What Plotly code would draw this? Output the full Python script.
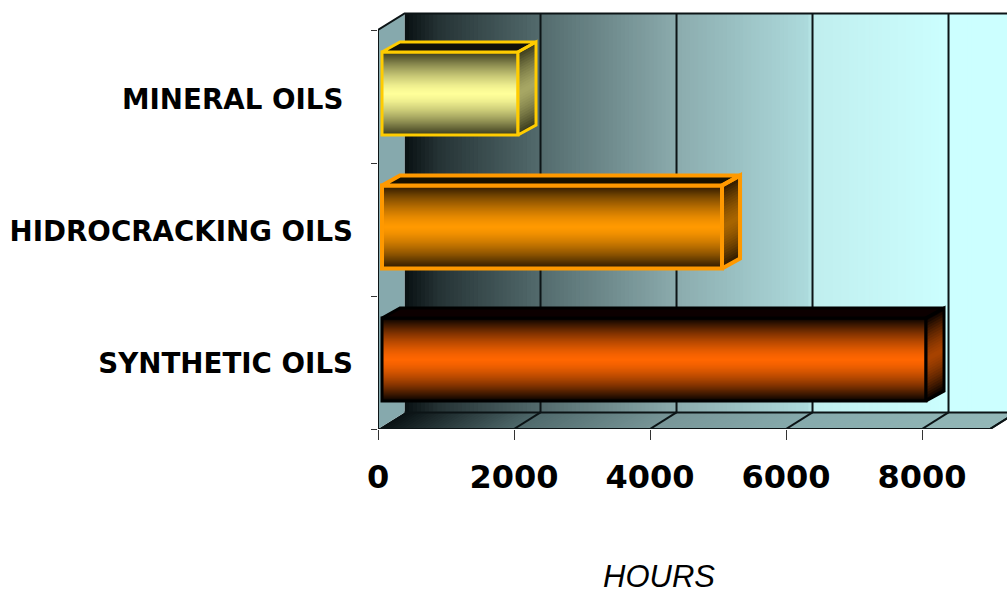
import plotly.graph_objects as go

categories = ["SYNTHETIC OILS", "HIDROCRACKING OILS", "MINERAL OILS\u00a0"]
label_positions = [0.496, 1.489, 2.481]
hours = [8000, 5000, 2000]
bar_centers = [0.5226, 1.519, 2.5226]
center_rgb = [(255, 102, 0), (255, 153, 0), (255, 255, 153)]
edge_rgb = [(8, 2, 0), (45, 25, 0), (60, 60, 30)]
top_rgb = ["#0c0000", "#161000", "#11110a"]
outline = ["#000000", "#ff9900", "#ffcc00"]
x_ticks = [0, 2000, 4000, 6000, 8000]
axis_max = 9000

PX = 0.068
BAR_W = 0.624
DEPTH_X, DEPTH_Y = 390, 0.125
BAR_DX, BAR_DY = 265, 0.075
BASE = 59

wall_stops = [(0, (10, 18, 20)), (500, (38, 52, 54)), (2000, (84, 108, 110)), (4000, (140, 172, 174)),
              (5900, (172, 218, 220)), (6000, (192, 238, 238)), (8000, (204, 255, 255)), (9400, (204, 255, 255))]
floor_stops = [(0, (10, 18, 20)), (2000, (80, 106, 108)), (4000, (120, 150, 152)),
               (6000, (134, 170, 172)), (9000, (148, 184, 184))]


def lerp(a, b, t):
    return tuple(a[i] + (b[i] - a[i]) * t for i in range(3))


def css(c):
    return "rgb(%d,%d,%d)" % tuple(round(v) for v in c)


def stop_color(stops, h):
    for (h0, c0), (h1, c1) in zip(stops, stops[1:]):
        if h <= h1:
            return lerp(c0, c1, (h - h0) / (h1 - h0))
    return stops[-1][1]


def path(points):
    return "M " + " L ".join("%g,%g" % p for p in points) + " Z"


shapes = []
STEP = 60
# back wall
h = 0
while h < axis_max + 300:
    shapes.append(dict(type="rect", layer="below", x0=DEPTH_X + h, x1=9600, y0=DEPTH_Y, y1=3 + DEPTH_Y,
                       fillcolor=css(stop_color(wall_stops, h)), line_width=0))
    h += STEP
# floor
h = 0
while h < axis_max:
    pts = [(h, 0), (axis_max, 0), (axis_max + DEPTH_X, DEPTH_Y), (h + DEPTH_X, DEPTH_Y)]
    shapes.append(dict(type="path", layer="below", path=path(pts),
                       fillcolor=css(stop_color(floor_stops, h)), line_width=0))
    h += STEP
# left wall
shapes.append(dict(type="path", layer="below", fillcolor="#86a9ad", line_width=0,
                   path=path([(0, 0), (DEPTH_X, DEPTH_Y), (DEPTH_X, 3 + DEPTH_Y), (0, 3)])))
# grid
for t in x_ticks[1:]:
    shapes.append(dict(type="line", layer="below", x0=t + DEPTH_X, x1=t + DEPTH_X, y0=DEPTH_Y, y1=3 + DEPTH_Y,
                       line=dict(color="#0c1416", width=2)))
for t in x_ticks[1:] + [axis_max]:
    shapes.append(dict(type="line", layer="below", x0=t, x1=t + DEPTH_X, y0=0, y1=DEPTH_Y,
                       line=dict(color="#0c1416", width=2)))
shapes.append(dict(type="line", layer="below", x0=DEPTH_X, x1=9600, y0=DEPTH_Y, y1=DEPTH_Y,
                   line=dict(color="#0c1416", width=2)))

fig = go.Figure()

LEVELS = 42
for k in range(LEVELS + 1):
    t = 1 - k / LEVELS
    shade = t ** 1.5
    fig.add_bar(orientation="h", y=bar_centers, x=hours, base=[BASE] * 3, width=[max(BAR_W * t, 0.004)] * 3,
                marker=dict(color=[css(lerp(c, e, shade)) for c, e in zip(center_rgb, edge_rgb)], line_width=0),
                hoverinfo="skip", showlegend=False)
fig.add_bar(orientation="h", y=bar_centers, x=hours, base=[BASE] * 3, width=[BAR_W] * 3,
            marker=dict(color="rgba(0,0,0,0)", line=dict(color=outline, width=[3, 4, 3])),
            hoverinfo="skip", showlegend=False)


def poly(xs, ys, fill=None, line=None, lw=0):
    fig.add_scatter(x=xs + xs[:1], y=ys + ys[:1], mode="lines", fill="toself" if fill else "none",
                    fillcolor=fill, line=dict(color=line or "rgba(0,0,0,0)", width=lw),
                    hoverinfo="skip", showlegend=False, cliponaxis=False)


for val, yc, cc, ec, tc, oc in zip(hours, bar_centers, center_rgb, edge_rgb, top_rgb, outline):
    x0, x1 = BASE, BASE + val
    y1 = yc + BAR_W / 2
    y0 = yc - BAR_W / 2
    lw = 4 if oc == "#ff9900" else 3
    poly([x0, x1, x1 + BAR_DX, x0 + BAR_DX], [y1, y1, y1 + BAR_DY, y1 + BAR_DY], tc)
    side = tuple(v * 0.66 for v in cc)
    for k in range(15):
        s = 1 - k / 15
        c = lerp(side, ec, s ** 1.5)
        hw = BAR_W / 2 * s
        poly([x1, x1 + BAR_DX, x1 + BAR_DX, x1],
             [yc - hw, yc - hw + BAR_DY, yc + hw + BAR_DY, yc + hw], css(c))
    poly([x0, x1, x1 + BAR_DX, x0 + BAR_DX], [y1, y1, y1 + BAR_DY, y1 + BAR_DY], None, oc, lw)
    poly([x1, x1 + BAR_DX, x1 + BAR_DX, x1], [y0, y0 + BAR_DY, y1 + BAR_DY, y1], None, oc, lw)

# front frame edges
fig.add_scatter(x=[0, axis_max], y=[-0.012, -0.012], mode="lines", line=dict(color="#c4c4c4", width=3),
                hoverinfo="skip", showlegend=False, cliponaxis=False)
fig.add_scatter(x=[0, axis_max, axis_max + DEPTH_X], y=[0, 0, DEPTH_Y], mode="lines",
                line=dict(color="#0c1416", width=2), hoverinfo="skip", showlegend=False, cliponaxis=False)
fig.add_scatter(x=[0, 0, DEPTH_X, 9600], y=[0, 3, 3 + DEPTH_Y, 3 + DEPTH_Y], mode="lines",
                line=dict(color="#0c1416", width=2), hoverinfo="skip", showlegend=False, cliponaxis=False)

fig.update_layout(
    width=1007, height=594, margin=dict(l=378, r=0, t=8, b=165),
    paper_bgcolor="white", plot_bgcolor="white", barmode="overlay", showlegend=False, shapes=shapes,
    xaxis=dict(range=[0, 629 / PX], tickvals=x_ticks, showgrid=False, zeroline=False, showline=False,
               ticks="outside", ticklen=10, tickwidth=1, tickcolor="#333333", ticklabelstandoff=10,
               tickfont=dict(family="DejaVu Sans", size=32, color="black", weight="bold")),
    yaxis=dict(range=[0, 421 / 133], tickvals=label_positions, ticktext=categories, showgrid=False,
               zeroline=False, showline=False, ticks="", ticklabelstandoff=24,
               minor=dict(tickvals=[0, 1, 2, 3], ticks="outside", ticklen=6, tickwidth=1, tickcolor="#333333"),
               tickfont=dict(family="DejaVu Sans", size=27.7, color="black", weight="bold")),
    annotations=[dict(text="HOURS", xref="paper", yref="paper", x=281 / 629, y=-147 / 421, xanchor="center",
                      yanchor="middle", showarrow=False,
                      font=dict(family="Liberation Sans", size=31, color="black", style="italic"))],
)

fig.write_html("out.html", config=dict(displayModeBar=False), post_script="document.body.style.margin='0';")
